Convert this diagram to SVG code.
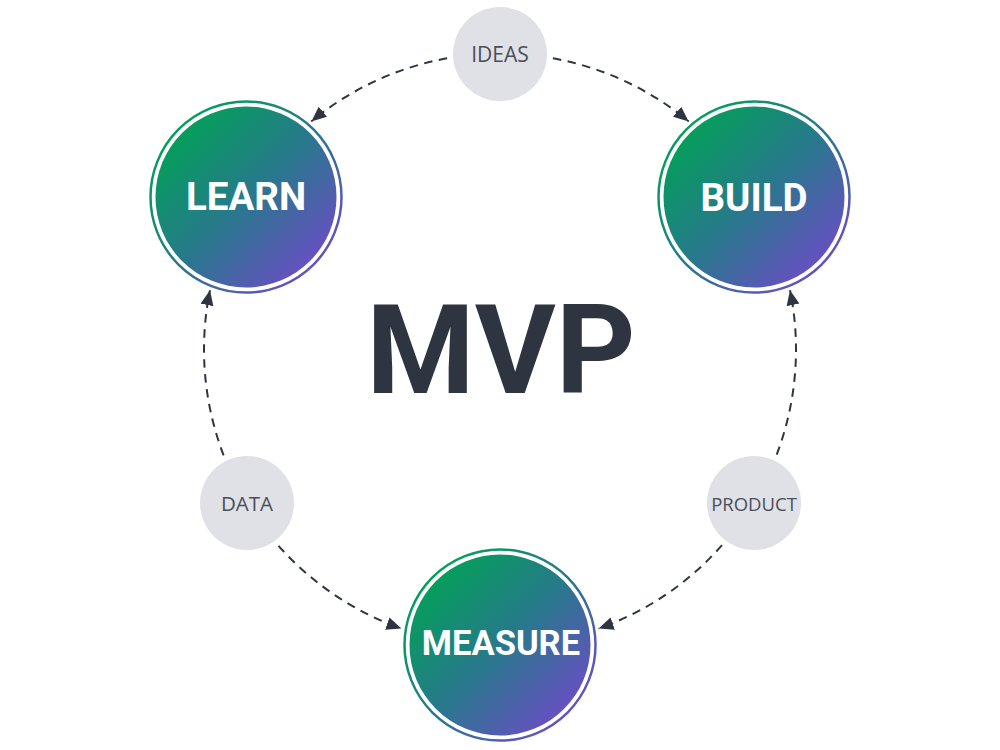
<svg xmlns="http://www.w3.org/2000/svg" width="1000" height="750" viewBox="0 0 1000 750">
<defs>
<linearGradient id="g" x1="0" y1="0" x2="1" y2="1">
<stop offset="0.12" stop-color="#03a059"/>
<stop offset="0.5" stop-color="#27798b"/>
<stop offset="0.88" stop-color="#6a4ec4"/>
</linearGradient>
<marker id="arr" markerUnits="userSpaceOnUse" markerWidth="17" markerHeight="15" refX="15" refY="6.5" orient="auto" viewBox="0 0 17 15">
<path d="M0,0 L15,6.5 L0,13 z" fill="#2e3541"/>
</marker>
<style>
.ring{fill:none;stroke:url(#g);stroke-width:2.5}
.core{fill:url(#g)}
.big{font-family:Roboto,"Liberation Sans",sans-serif;font-weight:700;fill:#ffffff;text-anchor:middle}
.small{fill:#e0e1e6}
.sl{font-family:"Open Sans","Liberation Sans",sans-serif;font-weight:400;fill:#4a4f59;text-anchor:middle}
.c{fill:none;stroke:#2e3541;stroke-width:2;stroke-dasharray:8.5 6.5;marker-end:url(#arr)}
</style>
</defs>
<rect width="1000" height="750" fill="#ffffff"/>
<g id="connectors">
<path class="c" d="M447.1,58.3 A296,296 0 0 0 311.3,121.4"/>
<path class="c" d="M552.9,58.3 A296,296 0 0 1 688.7,121.4"/>
<path class="c" d="M776.7,454.6 A296,296 0 0 0 790.0,290.2"/>
<path class="c" d="M722.0,545.2 A296,296 0 0 1 598.6,628.6"/>
<path class="c" d="M278.5,545.8 A296,296 0 0 0 401.4,628.6"/>
<path class="c" d="M223.6,455.3 A296,296 0 0 1 210.0,290.2"/>
</g>
<text id="mvp" x="501" y="393" font-family="Roboto,'Liberation Sans',sans-serif" font-weight="700" font-size="124" fill="#2e3541" text-anchor="middle">MVP</text>
<g id="learn">
<circle class="ring" cx="246" cy="197" r="95.5"/>
<circle class="core" cx="246" cy="197" r="90.5"/>
<text class="big" x="246" y="210" font-size="38.5">LEARN</text>
</g>
<g id="build">
<circle class="ring" cx="754" cy="197" r="95.5"/>
<circle class="core" cx="754" cy="197" r="90.5"/>
<text class="big" x="754" y="211" font-size="38.5">BUILD</text>
</g>
<g id="measure">
<circle class="ring" cx="500" cy="645" r="95.5"/>
<circle class="core" cx="500" cy="645" r="90.5"/>
<text class="big" x="501" y="655" font-size="34.5">MEASURE</text>
</g>
<g id="ideas">
<circle class="small" cx="500" cy="54" r="47"/>
<text class="sl" x="500" y="61.5" font-size="21">IDEAS</text>
</g>
<g id="data">
<circle class="small" cx="247" cy="503" r="47"/>
<text class="sl" x="247" y="510.5" font-size="20.5">DATA</text>
</g>
<g id="product">
<circle class="small" cx="754" cy="503" r="47"/>
<text class="sl" x="754" y="510.5" font-size="18.5">PRODUCT</text>
</g>
</svg>
